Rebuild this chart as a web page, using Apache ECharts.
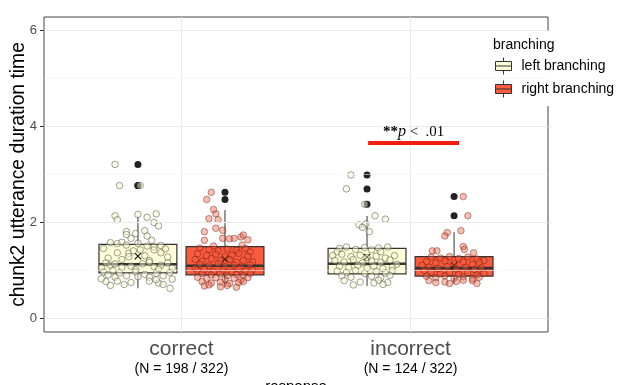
<!DOCTYPE html>
<html>
<head>
<meta charset="utf-8">
<script src="https://cdn.jsdelivr.net/npm/echarts@6/dist/echarts.min.js"></script>
<style>
  html, body { margin: 0; padding: 0; background: #fff; }
  #chart { width: 620px; height: 385px; }
</style>
</head>
<body>
<div id="chart"></div>
<script>
// 反应类型 x 分支方向 的时长箱线图

const categories = ['correct', 'incorrect'];
const nLabels = ['(N = 198 / 322)', '(N = 124 / 322)'];
const groups = ['left branching', 'right branching'];
const yTicks = [0, 2, 4, 6];
const yMinor = [1, 3, 5];

// [下须, Q1, 中位数, Q3, 上须]，按 categories 顺序
const leftBox = [[0.62, 0.94, 1.12, 1.535, 2.11], [0.67, 0.92, 1.13, 1.45, 2.125]];
const rightBox = [[0.65, 0.90, 1.09, 1.49, 2.25], [0.72, 0.875, 1.04, 1.28, 1.79]];
const leftMean = [1.29, 1.27];
const rightMean = [1.23, 1.10];
const leftOutliers = [[3.20, 2.76, 2.76], [2.98, 2.69, 2.37]];
const rightOutliers = [[2.62, 2.47], [2.53, 2.13]];

// 抖动散点 [x 偏移, 值]
const leftCorrectPts = [
  [-0.10,3.20],[-0.08,2.76],[0.01,2.76],[-0.10,2.13],[-0.09,2.05],[0.00,2.16],[0.04,2.10],[0.08,2.17],[0.07,1.99],[0.09,1.92],
  [-0.05,1.80],[-0.05,1.74],[-0.01,1.76],[0.03,1.82],[0.04,1.71],[-0.03,1.66],[0.06,1.62],
  [-0.12,1.57],[-0.09,1.55],[-0.07,1.58],[-0.05,1.52],[0.00,1.56],[0.04,1.50],[0.07,1.48],[0.10,1.51],[-0.15,1.45],[0.12,1.44],
  [-0.09,1.36],[-0.04,1.35],[-0.02,1.40],[0.01,1.42],[-0.04,1.28],[0.03,1.30],[0.07,1.42],[0.10,1.36],[-0.13,1.25],[0.13,1.27],[-0.07,1.22],[0.05,1.20],
  [-0.14,1.15],[-0.12,1.10],[-0.10,1.13],[-0.07,1.06],[-0.03,1.08],[0.02,1.13],[0.05,1.16],[0.07,1.07],[0.10,1.10],[0.13,1.15],[-0.16,1.05],[0.15,1.04],[-0.01,1.01],[0.09,1.02],
  [-0.15,0.96],[-0.13,0.90],[-0.10,0.85],[-0.08,0.94],[-0.05,0.88],[-0.01,0.96],[0.03,0.91],[0.05,0.85],[0.08,0.93],[0.11,0.88],[0.14,0.95],[-0.11,0.99],[0.00,0.86],
  [-0.14,0.76],[-0.09,0.77],[-0.03,0.74],[0.05,0.77],[0.09,0.73],[0.08,0.80],[0.14,0.62],[-0.12,0.68],[-0.06,0.70],[0.11,0.70],[-0.16,0.82],[0.15,0.81]
];
const rightCorrectPts = [
  [-0.06,2.62],[-0.08,2.47],[-0.05,2.26],[-0.04,2.17],[-0.07,2.07],[-0.03,2.05],[-0.04,1.87],[-0.01,1.83],[-0.09,1.80],[-0.09,1.62],[-0.05,1.50],[-0.01,1.66],[0.02,1.65],[0.04,1.66],[0.07,1.69],[0.08,1.73],[0.075,1.52],[0.10,1.63],
  [-0.11,1.46],[-0.07,1.43],[-0.03,1.40],[0.01,1.44],[0.05,1.41],[0.09,1.45],[0.11,1.38],[-0.12,1.34],[-0.08,1.30],[-0.04,1.33],[0.00,1.28],[0.03,1.31],[0.06,1.35],[0.10,1.29],
  [-0.13,1.22],[-0.10,1.18],[-0.06,1.24],[-0.02,1.19],[0.02,1.22],[0.05,1.16],[0.08,1.20],[0.12,1.17],[-0.11,1.12],[-0.07,1.09],[-0.03,1.13],[0.00,1.07],[0.04,1.10],[0.07,1.06],[0.11,1.11],[-0.13,1.04],
  [-0.12,0.99],[-0.09,1.01],[-0.05,0.97],[-0.01,1.00],[0.03,0.96],[0.06,1.02],[0.09,0.98],[0.12,1.00],[-0.10,0.93],[-0.06,0.90],[-0.02,0.92],[0.01,0.88],[0.05,0.91],[0.08,0.89],[0.11,0.93],
  [-0.12,0.85],[-0.08,0.82],[-0.04,0.84],[0.00,0.80],[0.04,0.83],[0.07,0.79],[0.10,0.84],[-0.10,0.76],[-0.06,0.73],[-0.02,0.75],[0.02,0.72],[0.06,0.74],[0.08,0.76],[-0.09,0.67],[-0.02,0.65],[0.05,0.64],[-0.07,0.69],[0.01,0.68]
];
const leftIncorrectPts = [
  [-0.07,2.98],[-0.09,2.69],[-0.01,2.37],[0.035,2.13],[0.08,2.06],[-0.035,1.94],[-0.005,1.96],[-0.02,1.89],[0.01,1.80],
  [-0.12,1.45],[-0.09,1.48],[-0.05,1.43],[-0.01,1.47],[0.02,1.42],[0.05,1.46],[0.09,1.48],[-0.13,1.38],[0.06,1.38],
  [-0.15,1.30],[-0.11,1.33],[-0.07,1.28],[-0.03,1.31],[0.00,1.26],[0.04,1.29],[0.08,1.25],[0.12,1.30],
  [-0.14,1.20],[-0.10,1.17],[-0.06,1.22],[-0.02,1.15],[0.02,1.19],[0.06,1.16],[0.10,1.21],[0.13,1.12],
  [-0.12,1.08],[-0.08,1.05],[-0.04,1.10],[0.00,1.04],[0.03,1.08],[0.07,1.03],[0.11,1.06],
  [-0.13,0.98],[-0.09,0.95],[-0.05,0.99],[-0.01,0.93],[0.04,0.97],[0.08,0.94],[0.11,0.99],[-0.11,0.88],[-0.07,0.85],[0.02,0.87],[0.06,0.84],[0.10,0.89],
  [-0.10,0.78],[-0.03,0.75],[0.05,0.79],[0.09,0.74],[-0.06,0.69],[0.07,0.70],[0.03,0.73]
];
const rightIncorrectPts = [
  [0.04,2.53],[0.06,2.13],[0.03,1.82],[-0.03,1.78],[-0.04,1.71],[0.04,1.49],[0.045,1.43],[0.085,1.36],[-0.095,1.40],[-0.075,1.40],
  [-0.10,1.27],[-0.06,1.25],[-0.02,1.28],[0.02,1.24],[0.06,1.27],[0.10,1.23],[0.13,1.20],
  [-0.12,1.18],[-0.08,1.15],[-0.04,1.19],[0.00,1.13],[0.04,1.17],[0.08,1.12],[0.11,1.16],[-0.14,1.10],
  [-0.11,1.06],[-0.07,1.03],[-0.03,1.07],[0.01,1.02],[0.05,1.05],[0.09,1.01],[0.12,1.04],[-0.13,0.99],
  [-0.10,0.96],[-0.06,0.92],[-0.02,0.95],[0.02,0.91],[0.06,0.94],[0.10,0.90],[0.13,0.93],
  [-0.12,0.87],[-0.08,0.84],[-0.04,0.88],[0.00,0.83],[0.04,0.86],[0.08,0.82],[0.11,0.85],
  [-0.08,0.74],[-0.04,0.75],[0.04,0.79],[0.08,0.78],[-0.11,0.78],[0.01,0.76],[0.10,0.72],[-0.02,0.72]
];

// 显著性标注
const sigLabel = ['**', 'p', ' <  .01'];
const sigY = 3.65;
const sigX = [1.815, 2.212];

const leftFill = '#ffffd9';
const rightFill = '#fb5a3d';
const dodge = 0.19;   // 组间偏移
const halfW = 0.17;   // 箱体半宽

function boxData(box, mean, off) {
  return box.map(function (b, i) { return [i + 1 + off].concat(b, [mean[i]]); });
}
function outlierData(outs, off) {
  const res = [];
  outs.forEach(function (arr, i) { arr.forEach(function (v) { res.push([i + 1 + off, v]); }); });
  return res;
}
function jitterData(pts, cat, off) {
  return pts.map(function (p) { return [cat + off + p[0], p[1]]; });
}

function renderBox(fill) {
  return function (params, api) {
    const x = api.value(0);
    const lo = api.coord([x, api.value(1)]);
    const q1L = api.coord([x - halfW, api.value(2)]);
    const medL = api.coord([x - halfW, api.value(3)]);
    const medR = api.coord([x + halfW, api.value(3)]);
    const q3R = api.coord([x + halfW, api.value(4)]);
    const hi = api.coord([x, api.value(5)]);
    const q1 = api.coord([x, api.value(2)]);
    const q3 = api.coord([x, api.value(4)]);
    const mn = api.coord([x, api.value(6)]);
    const s = 3.2;
    return {
      type: 'group',
      children: [
        { type: 'line', shape: { x1: lo[0], y1: lo[1], x2: q1[0], y2: q1[1] }, style: { stroke: '#333', lineWidth: 1 } },
        { type: 'line', shape: { x1: q3[0], y1: q3[1], x2: hi[0], y2: hi[1] }, style: { stroke: '#333', lineWidth: 1 } },
        { type: 'rect', shape: { x: q1L[0], y: q3R[1], width: q3R[0] - q1L[0], height: q1L[1] - q3R[1] },
          style: { fill: fill, stroke: '#333', lineWidth: 1.2 } },
        { type: 'line', shape: { x1: medL[0], y1: medL[1], x2: medR[0], y2: medR[1] }, style: { stroke: '#333', lineWidth: 2.6 } },
        { type: 'line', shape: { x1: mn[0] - s, y1: mn[1] - s, x2: mn[0] + s, y2: mn[1] + s }, style: { stroke: '#111', lineWidth: 1.2 } },
        { type: 'line', shape: { x1: mn[0] - s, y1: mn[1] + s, x2: mn[0] + s, y2: mn[1] - s }, style: { stroke: '#111', lineWidth: 1.2 } }
      ]
    };
  };
}

const chart = echarts.init(document.getElementById('chart'));

const gridLines = yTicks.map(function (v) { return { yAxis: v, lineStyle: { color: '#ebebeb', width: 1, type: 'solid' } }; })
  .concat(yMinor.map(function (v) { return { yAxis: v, lineStyle: { color: '#f3f3f3', width: 0.6, type: 'solid' } }; }))
  .concat(categories.map(function (c, i) { return { xAxis: i + 1, lineStyle: { color: '#ebebeb', width: 1, type: 'solid' } }; }));

const boxIcon = 'path://M0,4h16v9h-16zM8,0v4M8,13v4M0,8.5h16';

option = {
  animation: false,
  textStyle: { fontFamily: 'Liberation Sans, Arial, sans-serif' },
  title: {
    text: 'branching',
    left: 488,
    top: 33,
    z: 10,
    textStyle: { fontSize: 14, fontWeight: 'normal', color: '#000' }
  },
  legend: {
    orient: 'vertical',
    left: 489,
    top: 31,
    padding: [26, 10, 8, 6],
    backgroundColor: '#fff',
    itemWidth: 16,
    itemHeight: 17,
    itemGap: 5,
    itemStyle: { borderColor: '#333', borderWidth: 1 },
    textStyle: { fontSize: 14, color: '#000', padding: [0, 0, 0, 5] },
    data: [
      { name: groups[0], icon: boxIcon, itemStyle: { color: leftFill } },
      { name: groups[1], icon: boxIcon, itemStyle: { color: rightFill } }
    ]
  },
  grid: {
    left: 44, right: 72, top: 17, bottom: 53,
    outerBoundsMode: 'none',
    containLabel: false,
    show: true, borderColor: '#444', borderWidth: 1, backgroundColor: '#fff'
  },
  xAxis: {
    type: 'value',
    min: 0.4,
    max: 2.6,
    name: 'response',
    nameLocation: 'middle',
    nameGap: 47,
    nameMoveOverlap: false,
    nameTextStyle: { fontSize: 15, color: '#000', verticalAlign: 'top' },
    axisLine: { show: false },
    splitLine: { show: false },
    axisTick: { show: true, length: 4, lineStyle: { color: '#333' }, customValues: [1, 2] },
    axisLabel: {
      customValues: [1, 2],
      margin: 6,
      formatter: function (v) {
        const i = Math.round(v) - 1;
        return '{a|' + categories[i] + '}\n{b|' + nLabels[i] + '}';
      },
      rich: {
        a: { fontSize: 21, color: '#4d4d4d', lineHeight: 22 },
        b: { fontSize: 14, color: '#000', lineHeight: 18 }
      }
    }
  },
  yAxis: {
    type: 'value',
    min: -0.29,
    max: 6.27,
    name: 'chunk2 utterance duration time',
    nameLocation: 'middle',
    nameGap: 16,
    nameMoveOverlap: false,
    nameTextStyle: { fontSize: 19.3, color: '#000' },
    axisLine: { show: false },
    splitLine: { show: false },
    axisTick: { show: true, length: 4, lineStyle: { color: '#333' }, customValues: yTicks },
    axisLabel: { customValues: yTicks, fontSize: 13, color: '#4d4d4d', margin: 7 }
  },
  series: [
    {
      type: 'line', data: [], silent: true, z: 1,
      markLine: { silent: true, symbol: 'none', label: { show: false }, data: gridLines }
    },
    {
      name: groups[0], type: 'custom', z: 2,
      itemStyle: { color: leftFill },
      renderItem: renderBox(leftFill),
      data: boxData(leftBox, leftMean, -dodge)
    },
    {
      name: groups[1], type: 'custom', z: 2,
      itemStyle: { color: rightFill },
      renderItem: renderBox(rightFill),
      data: boxData(rightBox, rightMean, dodge)
    },
    {
      type: 'scatter', z: 3, symbolSize: 7,
      itemStyle: { color: '#222', opacity: 1 },
      data: outlierData(leftOutliers, -dodge).concat(outlierData(rightOutliers, dodge))
    },
    {
      type: 'scatter', z: 4, symbolSize: 6.5,
      itemStyle: { color: 'rgba(248,248,212,0.6)', borderColor: 'rgba(60,60,50,0.75)', borderWidth: 0.8 },
      data: jitterData(leftCorrectPts, 1, -dodge).concat(jitterData(leftIncorrectPts, 2, -dodge))
    },
    {
      type: 'scatter', z: 4, symbolSize: 6.5,
      itemStyle: { color: 'rgba(251,90,61,0.5)', borderColor: 'rgba(90,25,15,0.7)', borderWidth: 0.8 },
      data: jitterData(rightCorrectPts, 1, dodge).concat(jitterData(rightIncorrectPts, 2, dodge)),
      markLine: {
        silent: true,
        symbol: 'none',
        lineStyle: { color: '#f21d0d', width: 4, type: 'solid' },
        label: {
          show: true,
          position: 'middle',
          distance: 3,
          formatter: '{b|' + sigLabel[0] + '}{i|' + sigLabel[1] + '}{r|' + sigLabel[2] + '}',
          rich: {
            b: { fontFamily: 'Liberation Serif', fontSize: 15, fontWeight: 'bold', color: '#000' },
            i: { fontFamily: 'Liberation Serif', fontSize: 16, fontStyle: 'italic', color: '#000' },
            r: { fontFamily: 'Liberation Serif', fontSize: 15, color: '#000' }
          }
        },
        data: [[{ coord: [sigX[0], sigY] }, { coord: [sigX[1], sigY] }]]
      }
    }
  ]
};

chart.setOption(option);
</script>
</body>
</html>
